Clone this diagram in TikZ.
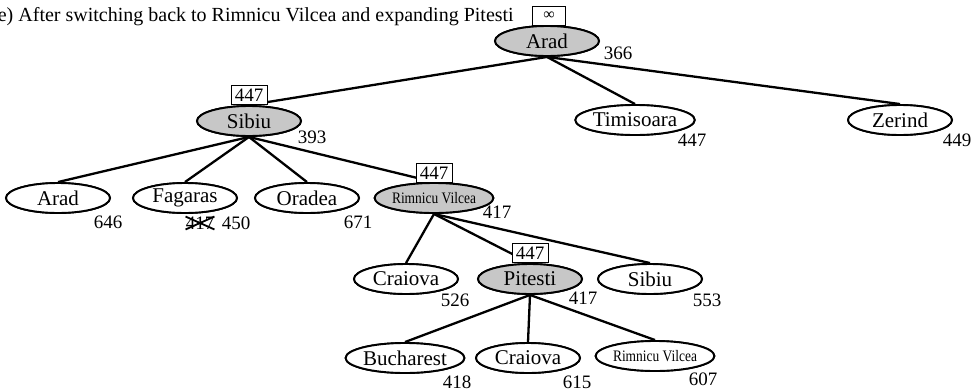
\documentclass[tikz,border=0pt]{standalone}
\usepackage{fontspec}
\setmainfont{Liberation Serif}
\usetikzlibrary{shapes.geometric}
\newcommand{\narrowname}[1]{\scalebox{0.84}[1]{#1}}
\begin{document}
\begin{tikzpicture}[x=1pt,y=-1pt,
  city/.style={ellipse,draw,line width=1.9pt,minimum width=104pt,minimum height=30pt,
    inner sep=0pt,font=\fontsize{21}{23}\selectfont,fill=white},
  open/.style={city,fill=black!22},
  tiny/.style={font=\fontsize{16}{18}\selectfont},
  cost/.style={inner sep=0pt,font=\fontsize{19}{22}\selectfont},
  limit/.style={draw,line width=1pt,fill=white,inner sep=1pt,minimum width=36pt,
    minimum height=19pt,font=\fontsize{19}{20}\selectfont},
  link/.style={line width=2.3pt}]
\useasboundingbox (0,0) rectangle (975,391);
\clip (0,0) rectangle (975,391);

\node[anchor=west,inner sep=0pt,font=\fontsize{20}{22}\selectfont] (title) at (-9,17)
  {(e) After switching back to Rimnicu Vilcea and expanding Pitesti};

% nodes
\node[open] (arad) at (547,41) {Arad};
\node[open] (sibiu) at (249,121) {Sibiu};
\node[city] (timi) at (635,120) {Timisoara};
\node[city] (zer) at (900,120) {Zerind};
\node[city] (arad2) at (58,198) {Arad};
\node[city] (fag) at (185,198) {Fagaras};
\node[city] (ora) at (307,198) {Oradea};
\node[open,tiny] (rv) at (434,198) {\narrowname{Rimnicu Vilcea}};
\node[city] (cra) at (406,279) {Craiova};
\node[open] (pit) at (530,279) {Pitesti};
\node[city] (sib2) at (650,279) {Sibiu};
\node[city] (buc) at (405,358) {Bucharest};
\node[city] (cra2) at (528,358) {Craiova};
\node[city,tiny] (rv2) at (655,356) {\narrowname{Rimnicu Vilcea}};

% tree edges
\draw[link] (arad.south) -- (sibiu.north);
\draw[link] (arad.south) -- (timi.north);
\draw[link] (arad.south) -- (zer.north);
\draw[link] (sibiu.south) -- (arad2.north);
\draw[link] (sibiu.south) -- (fag.north);
\draw[link] (sibiu.south) -- (ora.north);
\draw[link] (sibiu.south) -- (rv.north);
\draw[link] (rv.south) -- (cra.north);
\draw[link] (rv.south) -- (pit.north);
\draw[link] (rv.south) -- (sib2.north);
\draw[link] (pit.south) -- (buc.north);
\draw[link] (pit.south) -- (cra2.north);
\draw[link] (pit.south) -- (rv2.north);

% redraw nodes above the edges
\node[open] at (arad) {Arad};
\node[open] at (sibiu) {Sibiu};
\node[city] at (timi) {Timisoara};
\node[city] at (zer) {Zerind};
\node[city] at (arad2) {Arad};
\node[city] at (fag) {Fagaras};
\node[city] at (ora) {Oradea};
\node[open,tiny] at (rv) {\narrowname{Rimnicu Vilcea}};
\node[city] at (cra) {Craiova};
\node[open] at (pit) {Pitesti};
\node[city] at (sib2) {Sibiu};
\node[city] at (buc) {Bucharest};
\node[city] at (cra2) {Craiova};
\node[city,tiny] at (rv2) {\narrowname{Rimnicu Vilcea}};

% f-limits
\node[limit,minimum width=33pt,font=\fontsize{16}{18}\selectfont] (lim0) at (549,16) {∞};
\node[limit] (lim1) at (249,95) {447};
\node[limit] (lim2) at (434,173) {447};
\node[limit] (lim3) at (530,253) {447};

% f-values
\node[cost] (f0) at (618,53) {366};
\node[cost] (f1) at (312,137) {393};
\node[cost] (f2) at (692,140) {447};
\node[cost] (f3) at (957,140) {449};
\node[cost] (f4) at (108,222) {646};
\node[cost] (f5old) at (200,223) {417};
\node[cost] (f5) at (236,223) {450};
\node[cost] (f6) at (358,222) {671};
\node[cost] (f7) at (497,212) {417};
\node[cost] (f8) at (455,300) {526};
\node[cost] (f9) at (583,298) {417};
\node[cost] (f10) at (707,300) {553};
\node[cost] (f11) at (457,382) {418};
\node[cost] (f12) at (577,382) {615};
\node[cost] (f13) at (703,379) {607};
\draw[line width=1.8pt] (f5old.north west) -- (f5old.south east);
\draw[line width=1.8pt] (f5old.south west) -- (f5old.north east);
\end{tikzpicture}
\end{document}
